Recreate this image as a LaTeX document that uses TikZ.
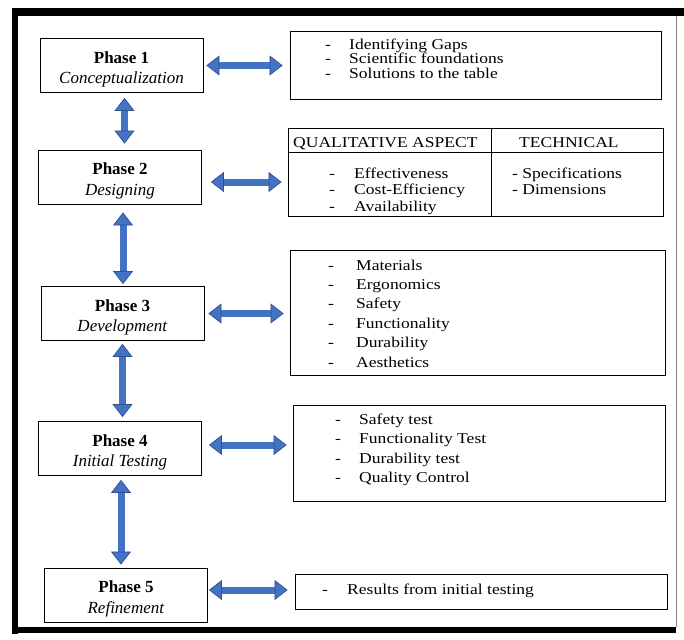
\documentclass[tikz,border=0pt]{standalone}
\usepackage{fontspec}
\setmainfont{Liberation Serif}
\newfontfamily\listfont{Liberation Serif}[FakeStretch=1.17]
\usetikzlibrary{arrows.meta}
\definecolor{arrowfill}{HTML}{4472C4}
\definecolor{arrowedge}{HTML}{2F528F}
\tikzset{
  phase/.style={draw, line width=0.8pt, minimum width=163pt, minimum height=54pt, inner sep=0pt, align=center, font=\fontsize{17}{20.5}\selectfont},
  listbox/.style={draw, line width=0.8pt, inner sep=0pt},
  item/.style={anchor=base west, inner sep=0pt, font=\listfont\fontsize{15}{15}\selectfont},
  blockarrow/.style={draw=arrowfill, line width=7pt, {Triangle[width=20pt,length=13pt,line width=0.7pt,color=arrowedge,fill=arrowfill]}-{Triangle[width=20pt,length=13pt,line width=0.7pt,color=arrowedge,fill=arrowfill]}}
}
\newcommand\dashed[2]{\makebox[#1][l]{-}#2}
\newcommand\phasetext[2]{\rule{0pt}{19.5pt}\textbf{#1}\\\textit{#2}}
\begin{document}
\begin{tikzpicture}[x=1pt,y=-1pt]
\useasboundingbox (0,0) rectangle (684,639);
\fill (12,8) rectangle (684,16);
\fill (12,8) rectangle (18,634);
\fill (12,627) rectangle (676,633);
\draw[gray,line width=1pt] (676,16) -- (676,627);

\node[phase] (p1) at (121.5,65.5) {\phasetext{Phase 1}{Conceptualization}};
\node[phase] (p2) at (120,177) {\phasetext{Phase 2}{Designing}};
\node[phase] (p3) at (122.5,313.5) {\phasetext{Phase 3}{Development}};
\node[phase] (p4) at (120,448.5) {\phasetext{Phase 4}{Initial Testing}};
\node[phase] (p5) at (126,595) {\phasetext{Phase 5}{Refinement}};

\node[listbox, minimum width=371pt, minimum height=68pt] (r1) at (475.5,65) {};
\node[listbox, minimum width=375pt, minimum height=88pt] (r2) at (475.5,172) {};
\node[listbox, minimum width=375pt, minimum height=125pt] (r3) at (477.5,312.5) {};
\node[listbox, minimum width=372pt, minimum height=96pt] (r4) at (479,453) {};
\node[listbox, minimum width=372pt, minimum height=35pt] (r5) at (481,591.5) {};
\draw[line width=0.8pt] (288,152) -- (663,152);
\draw[line width=0.8pt] (491,128) -- (491,216);

\foreach \t [count=\i from 0] in {Identifying Gaps,Scientific foundations,Solutions to the table}
  \node[item] (r1-\i) at (325,49.5+14.5*\i) {\dashed{24pt}{\t}};
\node[item] (r2-head) at (293,147) {QUALITATIVE ASPECT};
\node[item] (r2-tech) at (519,147) {TECHNICAL};
\foreach \t [count=\i from 0] in {Effectiveness,Cost-Efficiency,Availability}
  \node[item] (r2-\i) at (329,178+16.5*\i) {\dashed{25pt}{\t}};
\node[item] (r2-spec) at (512,178) {- Specifications};
\node[item] (r2-dim) at (512,194.5) {- Dimensions};
\foreach \t [count=\i from 0] in {Materials,Ergonomics,Safety,Functionality,Durability,Aesthetics}
  \node[item] (r3-\i) at (328,270+19.4*\i) {\dashed{28pt}{\t}};
\foreach \t [count=\i from 0] in {Safety test,Functionality Test,Durability test,Quality Control}
  \node[item] (r4-\i) at (335,424+19.6*\i) {\dashed{24pt}{\t}};
\node[item] (r5-0) at (322,594) {\dashed{25pt}{Results from initial testing}};

\draw[blockarrow, shorten <=3pt, shorten >=7pt] (p1.east) -- (p1.east -| r1.west);
\draw[blockarrow, shorten <=9pt, shorten >=6pt] ([yshift=-5pt]p2.east) -- ([yshift=-5pt]p2.east -| r2.west);
\draw[blockarrow, shorten <=4pt, shorten >=6pt] (p3.east) -- (p3.east -| r3.west);
\draw[blockarrow, shorten <=7pt, shorten >=6pt] ([yshift=3.5pt]p4.east) -- ([yshift=3.5pt]p4.east -| r4.west);
\draw[blockarrow, shorten <=1pt, shorten >=7pt] ([yshift=5pt]p5.east) -- ([yshift=5pt]p5.east -| r5.west);

\draw[blockarrow, shorten <=5pt, shorten >=6pt] ([xshift=3pt]p1.south) -- ([xshift=3pt]p1.south |- p2.north);
\draw[blockarrow, shorten <=8pt, shorten >=2pt] ([xshift=3pt]p2.south) -- ([xshift=3pt]p2.south |- p3.north);
\draw[blockarrow, shorten <=3pt, shorten >=4pt] (p3.south) -- (p3.south |- p4.north);
\draw[blockarrow, shorten <=4pt, shorten >=3pt] ([xshift=1pt]p4.south) -- ([xshift=1pt]p4.south |- p5.north);
\end{tikzpicture}
\end{document}
